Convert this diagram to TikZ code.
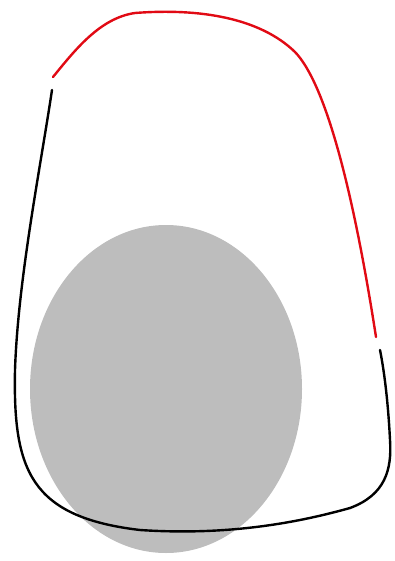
\documentclass[tikz,border=0pt]{standalone}
\definecolor{blobgray}{RGB}{189,189,189}
\definecolor{edgered}{RGB}{225,10,20}
\begin{document}
\begin{tikzpicture}[x=1pt,y=-1pt,
  edge/.style={line width=2.4pt,line cap=round,line join=round}]
\useasboundingbox (0,0) rectangle (395,561);
\fill[blobgray] (166,389) ellipse [x radius=136, y radius=164];
\coordinate (r0) at (53,77);
\coordinate (r1) at (135,13);
\coordinate (r2) at (295,52);
\coordinate (r3) at (376,337);
\draw[edge,edgered] (r0) .. controls (75,50) and (100,18) .. (r1)
  .. controls (200,8) and (260,18) .. (r2)
  .. controls (322,80) and (350,170) .. (r3);
\coordinate (b0) at (52,90);
\coordinate (b1) at (15,370);
\coordinate (b2) at (140,530);
\coordinate (b3) at (350,508);
\coordinate (b4) at (390,440);
\coordinate (b5) at (380,350);
\draw[edge,black] (b0) .. controls (40,170) and (18,280) .. (b1)
  .. controls (13,470) and (30,517) .. (b2)
  .. controls (230,536) and (300,522) .. (b3)
  .. controls (385,495) and (392,470) .. (b4)
  .. controls (388,400) and (384,370) .. (b5);
\end{tikzpicture}
\end{document}
